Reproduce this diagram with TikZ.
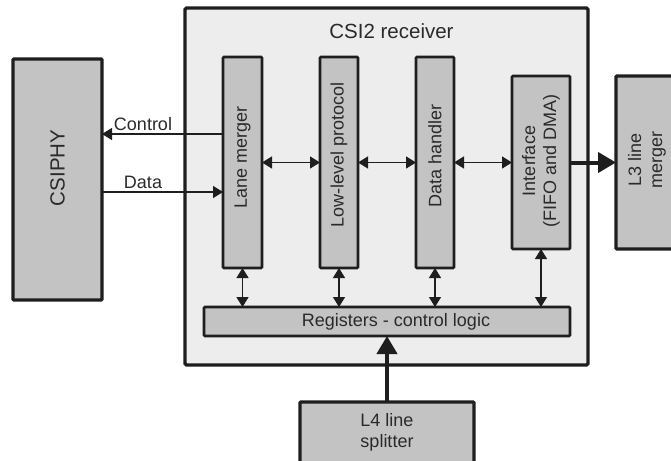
\documentclass[tikz,border=0pt]{standalone}
\usepackage{fontspec}
\setmainfont{Liberation Sans}
\usetikzlibrary{arrows.meta}
\definecolor{edge}{HTML}{1E1E1E}
\definecolor{boxfill}{HTML}{C3C3C3}
\definecolor{outerfill}{HTML}{EDEDED}
\definecolor{txt}{HTML}{2A2A2A}
\begin{document}
\begin{tikzpicture}[x=1pt,y=-1pt,
  blk/.style={draw=edge, fill=boxfill, line width=2.8pt, rounded corners=1pt, inner sep=0pt, outer sep=0pt},
  outerbox/.style={draw=edge, fill=outerfill, line width=3.2pt, rounded corners=1.5pt, inner sep=0pt, outer sep=0pt},
  vtxt/.style={rotate=90, text=txt, font=\fontsize{18}{21}\selectfont, align=center, inner sep=0pt},
  htxt/.style={text=txt, font=\fontsize{18}{21}\selectfont, align=center, inner sep=0pt},
  bigtxt/.style={text=txt, font=\fontsize{20.5}{24}\selectfont, inner sep=0pt},
  arr/.style={draw=edge, line width=1.4pt, -{Triangle[length=10pt,width=12pt]}},
  darr/.style={draw=edge, line width=1.4pt, {Triangle[length=10pt,width=12pt]}-{Triangle[length=10pt,width=12pt]}},
  bigarr/.style={draw=edge, line width=4pt, -{Triangle[length=18pt,width=20pt]}}
]
\clip (0,0) rectangle (671,460);
% outer receiver
\node[outerbox, minimum width=403pt, minimum height=357pt] (recv) at (386.5,186.5) {};
\node[bigtxt] (recvt) at (391.5,31) {CSI2 receiver};
% CSIPHY
\node[blk, line width=3.2pt, minimum width=89pt, minimum height=241pt] (csiphy) at (57.5,179.5) {};
\node[bigtxt, rotate=90] (csiphyt) at (57.5,168) {CSIPHY};
% inner blocks
\node[blk, minimum width=39pt, minimum height=211pt] (lane) at (242.5,162.5) {};
\node[vtxt] (lanet) at (242.5,157) {Lane merger};
\node[blk, minimum width=38pt, minimum height=211pt] (llp) at (339,162.5) {};
\node[vtxt] (llpt) at (339,155) {Low-level protocol};
\node[blk, minimum width=38pt, minimum height=211pt] (dh) at (435,162.5) {};
\node[vtxt] (dht) at (435,156) {Data handler};
\node[blk, minimum width=58pt, minimum height=173pt] (intf) at (541,162.5) {};
\node[vtxt] (intft) at (541,161) {Interface\\(FIFO and DMA)};
\node[blk, minimum width=366pt, minimum height=29pt] (reg) at (387,321.5) {};
\node[htxt] (regt) at (396,321.5) {Registers - control logic};
% outside blocks
\node[blk, line width=3.2pt, minimum width=90pt, minimum height=173pt] (l3) at (661,162.5) {};
\node[vtxt] (l3t) at (647,160) {L3 line\\merger};
\node[blk, line width=3.2pt, minimum width=174pt, minimum height=70pt] (l4) at (387,437) {};
\node[htxt] (l4t) at (387,432) {L4 line\\splitter};
% connectors
\coordinate (yc) at (0,134);
\coordinate (yd) at (0,192);
\draw[arr] (lane.west |- yc) -- (csiphy.east |- yc);
\draw[arr] (csiphy.east |- yd) -- (lane.west |- yd);
\node[htxt, anchor=base] (ctrl) at (143,130) {Control};
\node[htxt, anchor=base] (data) at (143,188) {Data};
\draw[darr] (lane.east) -- (llp.west);
\draw[darr] (llp.east) -- (dh.west);
\draw[darr] (dh.east) -- (intf.west);
\draw[darr] (lane.south) -- (lane.south |- reg.north);
\draw[darr] (llp.south) -- (llp.south |- reg.north);
\draw[darr] (dh.south) -- (dh.south |- reg.north);
\draw[darr] (intf.south) -- (intf.south |- reg.north);
\draw[bigarr] (intf.east) -- (l3.west);
\draw[bigarr] (l4.north) -- (l4.north |- reg.south);
\end{tikzpicture}
\end{document}
